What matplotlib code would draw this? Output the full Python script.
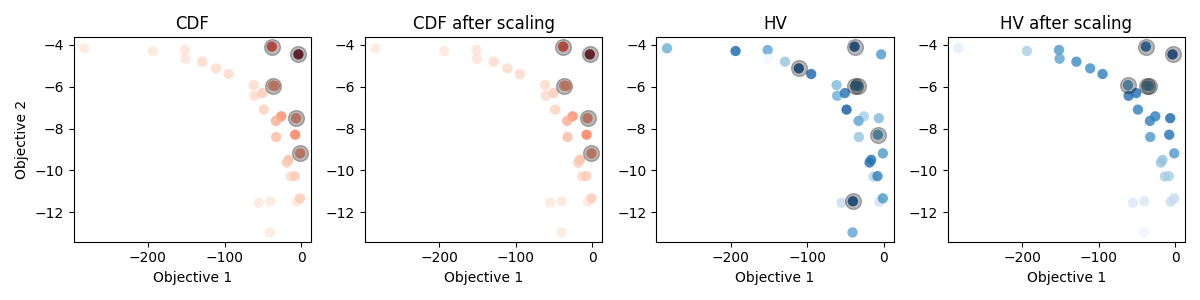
import numpy as np
import matplotlib
matplotlib.use('Agg')
import matplotlib.pyplot as plt

# objective values of the candidate points
obj1 = [-283, -193.5, -151.7, -150.9, -129, -111, -94.8, -61.7, -60.9, -50.9,
        -48.7, -38.3, -3.5, -37, -26, -33, -6.5, -32.6, -7.8, -1.3,
        -16.5, -18.7, -13.5, -8.3, -55.2, -40.4, -5.7, -1.3, -40.9, -34]
obj2 = [-4.16, -4.29, -4.24, -4.66, -4.8, -5.12, -5.39, -5.92, -6.43, -6.3,
        -7.09, -4.08, -4.45, -5.94, -7.41, -7.63, -7.5, -8.4, -8.29, -9.18,
        -9.49, -9.62, -10.29, -10.27, -11.54, -11.47, -11.49, -11.33, -12.96, -5.96]

# acquisition values per panel (normalised)
cdf = [0.08, 0.1, 0.12, 0.12, 0.15, 0.15, 0.15, 0.15, 0.15, 0.2,
       0.18, 0.6, 1.0, 0.35, 0.4, 0.3, 0.4, 0.25, 0.45, 0.4,
       0.25, 0.2, 0.15, 0.2, 0.08, 0.1, 0.1, 0.2, 0.08, 0.35]
cdf_scaled = cdf
hv = [0.5, 0.8, 0.55, 0.02, 0.4, 0.9, 0.8, 0.45, 0.5, 0.75,
      0.85, 0.9, 0.6, 0.6, 0.35, 0.55, 0.45, 0.4, 0.6, 0.6,
      0.75, 0.75, 0.3, 0.7, 0.25, 0.9, 0.2, 0.6, 0.55, 0.6]
hv_scaled = [0.1, 0.35, 0.6, 0.55, 0.65, 0.65, 0.7, 0.6, 0.75, 0.75,
             0.7, 0.8, 0.9, 0.5, 0.7, 0.7, 0.8, 0.6, 0.75, 0.6,
             0.4, 0.4, 0.35, 0.35, 0.15, 0.15, 0.25, 0.25, 0.05, 0.5]

# indices of the selected batch in each panel
sel_cdf = [12, 13, 16, 19, 11]
sel_cdf_scaled = [12, 13, 16, 19, 11]
sel_hv = [11, 5, 13, 18, 25, 29]
sel_hv_scaled = [11, 12, 7, 13, 29]

titles = ['CDF', 'CDF after scaling', 'HV', 'HV after scaling']
values = [cdf, cdf_scaled, hv, hv_scaled]
selected = [sel_cdf, sel_cdf_scaled, sel_hv, sel_hv_scaled]
cmaps = ['Reds', 'Reds', 'Blues', 'Blues']

x = np.array(obj1)
y = np.array(obj2)

fig, axes = plt.subplots(1, 4, figsize=(12, 3))
for ax, t, v, sel, cm in zip(axes, titles, values, selected, cmaps):
    ax.scatter(x, y, c=v, cmap=cm, vmin=0, vmax=1, s=55, alpha=0.8, linewidths=0)
    ax.scatter(x[sel], y[sel], c='k', s=130, alpha=0.28)
    ax.set_title(t)
    ax.set_xlabel('Objective 1')
axes[0].set_ylabel('Objective 2')

plt.tight_layout()
plt.savefig('out.png', dpi=100)
